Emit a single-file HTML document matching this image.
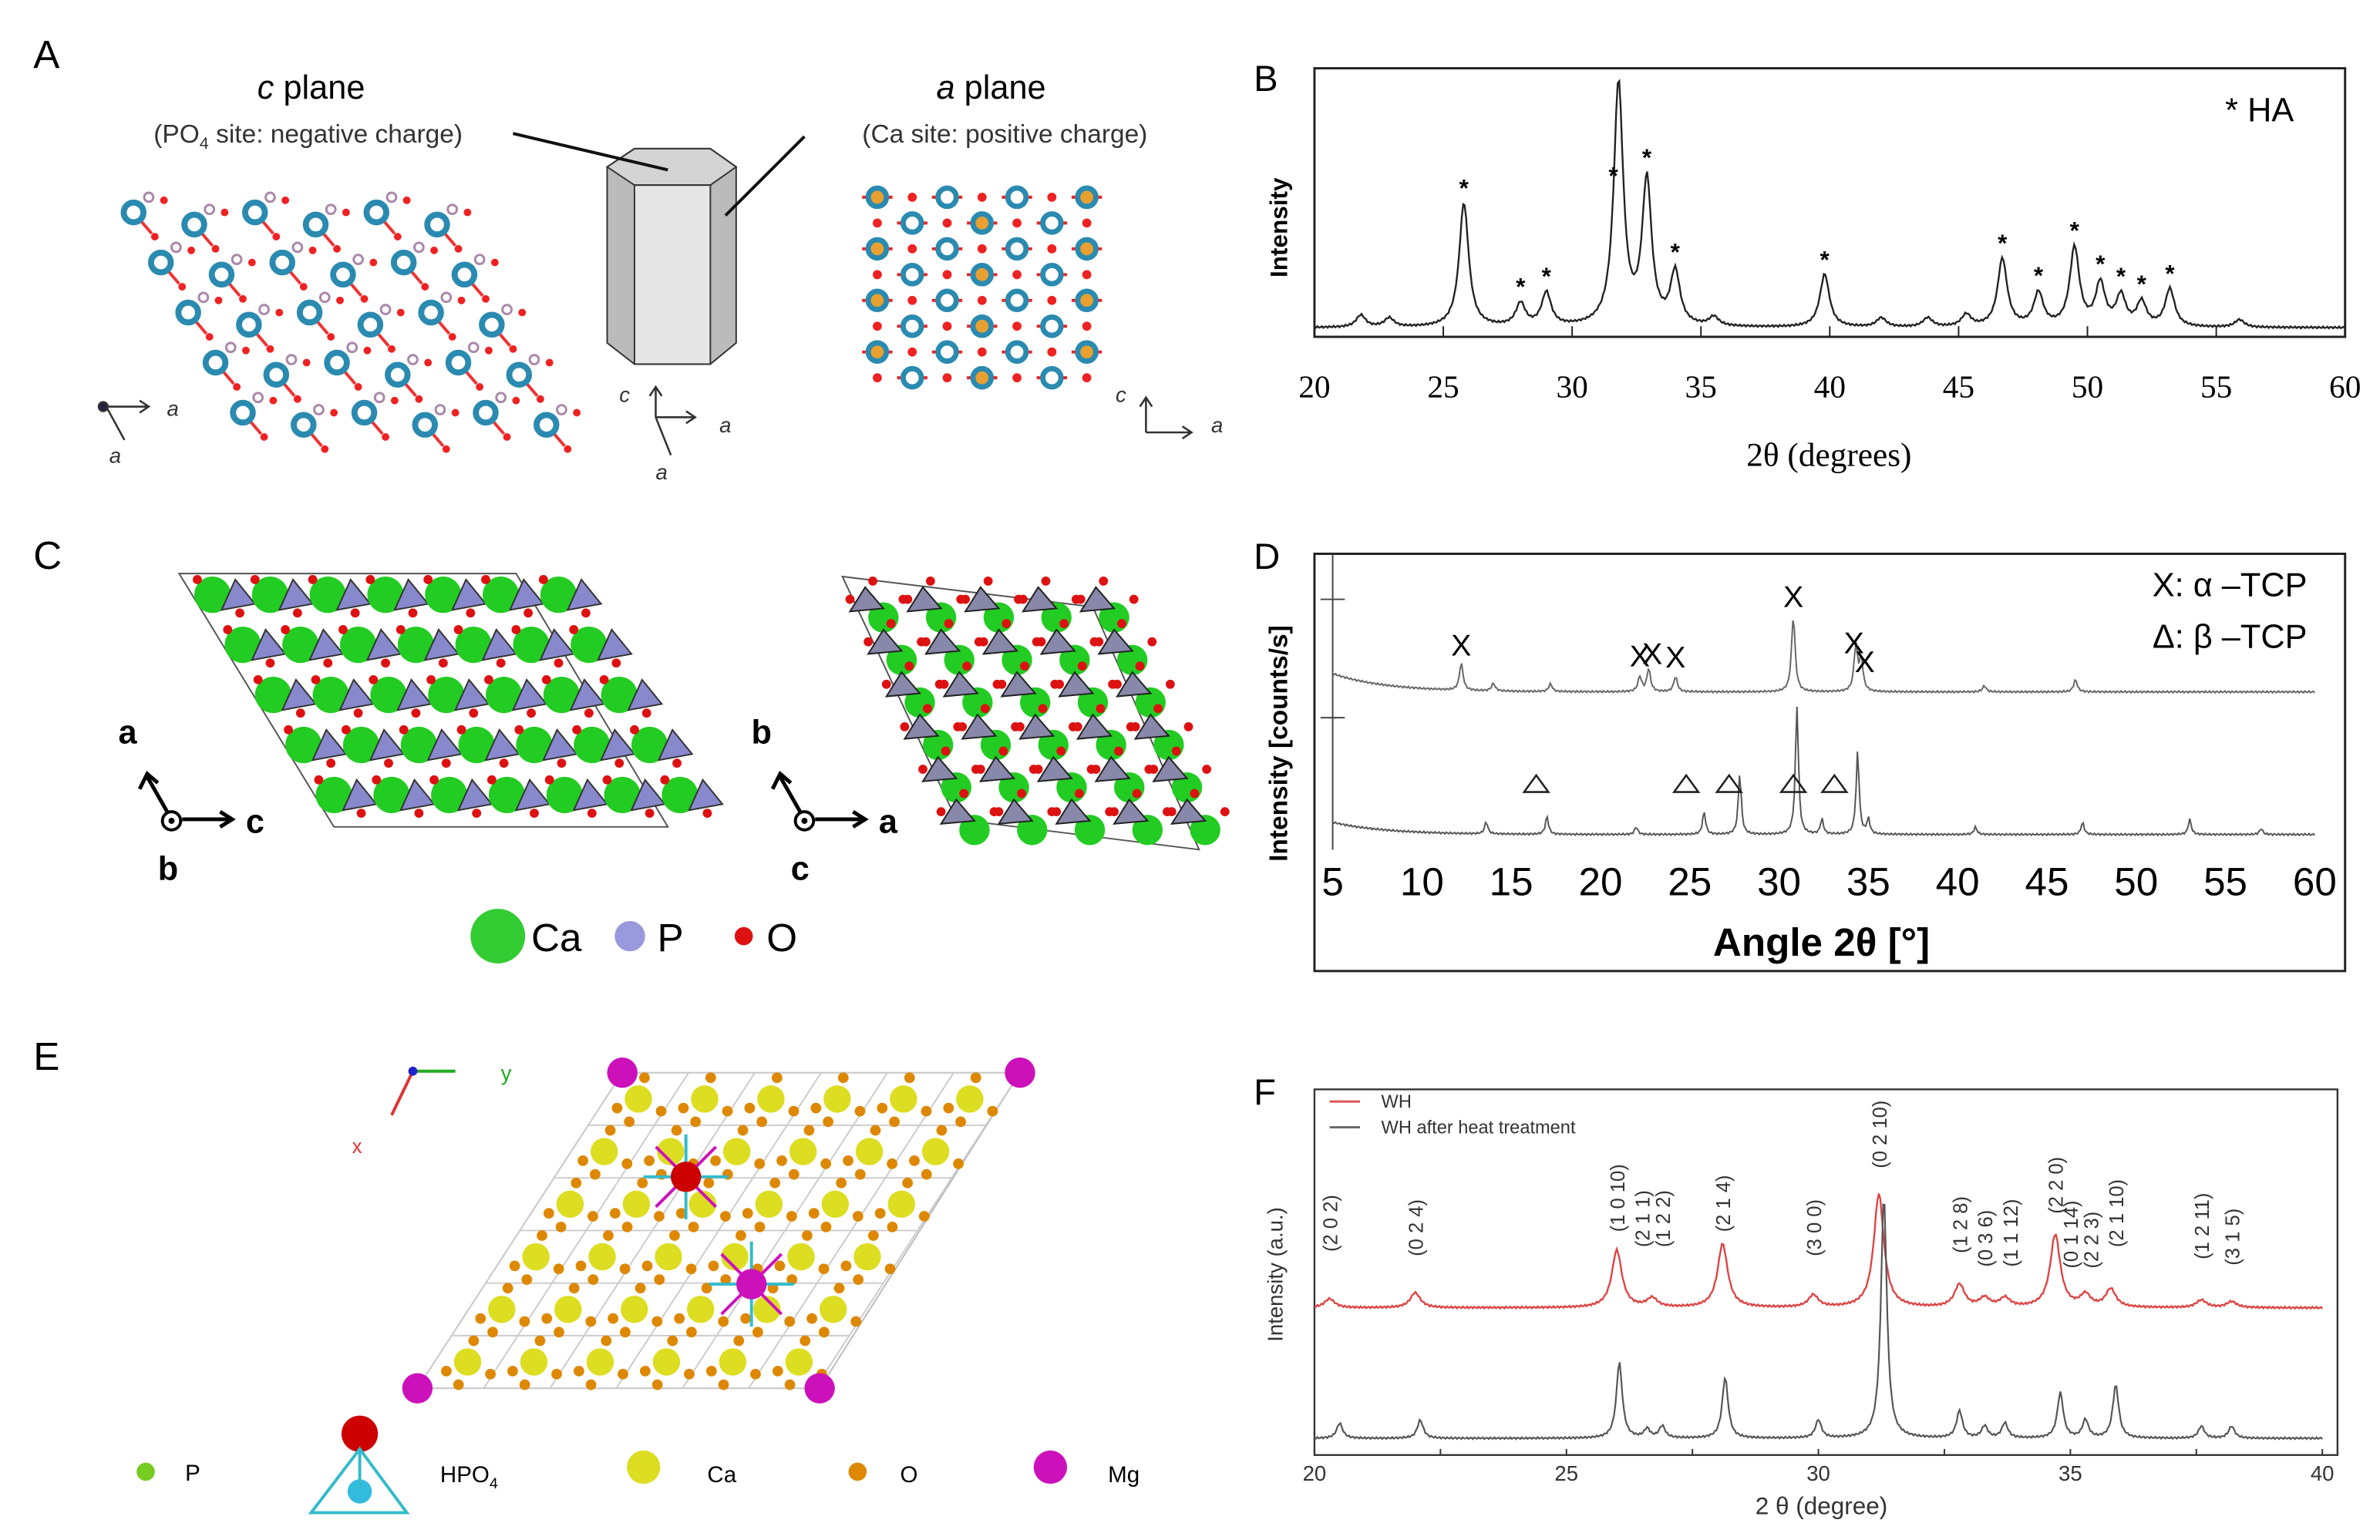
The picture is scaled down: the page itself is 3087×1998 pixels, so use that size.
<!DOCTYPE html>
<html><head><meta charset="utf-8"><style>
html,body{margin:0;padding:0;background:#fff;}
svg{display:block;font-family:"Liberation Sans",sans-serif;}
</style></head><body>
<svg id="fig" width="3087" height="1998" viewBox="0 0 1568 1015" preserveAspectRatio="none" xmlns="http://www.w3.org/2000/svg">
<rect x="0" y="0" width="1568" height="1015" fill="#fff"/>
<!-- Panel A -->
<g>
<text x="22" y="45" font-size="26">A</text>
<text x="205" y="65" font-size="22" text-anchor="middle"><tspan font-style="italic">c</tspan> plane</text>
<text x="203" y="94" font-size="17" text-anchor="middle" fill="#333">(PO<tspan font-size="11" dy="4">4</tspan><tspan dy="-4"> site: negative charge)</tspan></text>
<text x="653" y="65" font-size="22" text-anchor="middle"><tspan font-style="italic">a</tspan> plane</text>
<text x="662" y="94" font-size="17" text-anchor="middle" fill="#333">(Ca site: positive charge)</text>
<g>
<polygon points="400,110 418,98 468,98 485,110 485,226 468,240 418,240 400,226" fill="#bbb" stroke="#333"/>
<polygon points="400,110 418,98 468,98 485,110 468,122 418,122" fill="#d4d4d4" stroke="#333"/>
<rect x="418" y="122" width="50" height="118" fill="#e6e6e6" stroke="#333"/>
<line x1="338" y1="88" x2="440" y2="112" stroke="#111" stroke-width="2"/>
<line x1="530" y1="90" x2="478" y2="142" stroke="#111" stroke-width="2"/>
</g>
<g id="crystA"></g>
<g id="crystA2"></g>
<g stroke="#333" fill="none" stroke-width="1.3">
<path d="M70,268 H98 M92,264 L98,268 L92,272"/><path d="M70,268 L82,290"/><circle cx="68" cy="268" r="3" fill="#224" />
<path d="M432,275 V255 M428,261 L432,255 L436,261 M432,275 H458 M452,271 L458,275 L452,279 M432,275 L442,300"/>
<path d="M755,285 V262 M751,268 L755,262 L759,268 M755,285 H785 M779,281 L785,285 L779,289"/>
</g>
<g font-size="14" font-style="italic" fill="#333"><text x="110" y="274">a</text><text x="72" y="305">a</text><text x="408" y="265">c</text><text x="474" y="285">a</text><text x="432" y="316">a</text><text x="735" y="265">c</text><text x="798" y="285">a</text></g>
</g>
<!-- Panel B -->
<g>
<text x="826" y="60" font-size="24">B</text>
<rect x="866" y="45" width="679" height="177" fill="none" stroke="#222" stroke-width="1.5"/>
<g id="bTicks"></g>
<path id="bLine" fill="none" stroke="#222" stroke-width="1.2"/>
<g id="bStars"></g>
<text x="1205" y="307" font-size="22" font-family="Liberation Serif,serif" text-anchor="middle">2θ (degrees)</text>
<text transform="translate(848,150) rotate(-90)" font-size="16" font-weight="bold" text-anchor="middle">Intensity</text>
<text x="1466" y="80" font-size="22">* HA</text>
</g>
<!-- Panel C -->
<g>
<text x="22" y="375" font-size="26">C</text>
<polygon points="118,378 340,378 440,545 220,545" fill="none" stroke="#555"/>
<polygon points="555,380 720,400 790,560 630,540" fill="none" stroke="#555"/>
<g id="crystC1"></g>
<g id="crystC2"></g>
<g stroke="#000" stroke-width="2.5" fill="none">
<path d="M113,540 L97,512 M92,520 L97,510 L104,516"/><path d="M120,540 H152 M145,535 L153,540 L145,545"/>
<path d="M530,540 L514,512 M509,520 L514,510 L521,516"/><path d="M537,540 H569 M562,535 L570,540 L562,545"/>
</g>
<circle cx="113" cy="541" r="6" fill="#fff" stroke="#000" stroke-width="2"/><circle cx="113" cy="541" r="2" fill="#000"/>
<circle cx="530" cy="541" r="6" fill="#fff" stroke="#000" stroke-width="2"/><circle cx="530" cy="541" r="2" fill="#000"/>
<g font-size="22" font-weight="bold"><text x="78" y="490">a</text><text x="162" y="549">c</text><text x="104" y="580">b</text><text x="495" y="490">b</text><text x="579" y="549">a</text><text x="521" y="580">c</text></g>
<g>
<circle cx="328" cy="617" r="18" fill="#3c3"/><text x="350" y="627" font-size="26">Ca</text>
<circle cx="415" cy="617" r="10" fill="#99d"/><text x="433" y="627" font-size="26">P</text>
<circle cx="490" cy="617" r="6" fill="#d11"/><text x="505" y="627" font-size="26">O</text>
</g>
</g>
<!-- Panel D -->
<g>
<text x="826" y="375" font-size="24">D</text>
<rect x="866" y="365" width="679" height="275" fill="none" stroke="#222" stroke-width="1.5"/>
<line x1="878" y1="365" x2="878" y2="560" stroke="#444"/>
<line x1="870" y1="395" x2="886" y2="395" stroke="#444"/><line x1="870" y1="473" x2="886" y2="473" stroke="#444"/>
<path id="dTop" fill="none" stroke="#666" stroke-width="1"/>
<path id="dBot" fill="none" stroke="#555" stroke-width="1"/>
<g id="dTicks"></g><g id="dMarks"></g>
<text x="1200" y="630" font-size="26" font-weight="bold" text-anchor="middle">Angle 2θ [°]</text>
<text transform="translate(848,490) rotate(-90)" font-size="17" font-weight="bold" text-anchor="middle">Intensity [counts/s]</text>
<text x="1520" y="393" font-size="22" text-anchor="end">X: α –TCP</text>
<text x="1520" y="427" font-size="22" text-anchor="end">Δ: β –TCP</text>
</g>
<!-- Panel E -->
<g>
<text x="22" y="705" font-size="26">E</text>
<polygon points="410,707 672,707 540,915 275,915" fill="none" stroke="#bbb"/>
<g id="crystE"></g>
<g stroke-width="2" fill="none"><path d="M272,706 H300" stroke="#2a2"/><path d="M272,706 L258,735" stroke="#d33"/></g>
<circle cx="272" cy="706" r="3" fill="#22c"/>
<text x="330" y="712" font-size="14" fill="#2a2">y</text><text x="232" y="760" font-size="13" fill="#d33">x</text>
<g font-size="15">
<circle cx="96" cy="970" r="6" fill="#7c2"/><text x="122" y="976">P</text>
<circle cx="237" cy="945" r="12" fill="#c00"/><circle cx="237" cy="983" r="8" fill="#3bd"/>
<path d="M237,955 L205,997 L268,997 Z M237,955 V983" stroke="#3bc" stroke-width="2" fill="none"/>
<text x="290" y="977">HPO<tspan font-size="10" dy="4">4</tspan></text>
<circle cx="424" cy="967" r="11" fill="#dd2"/><text x="466" y="977">Ca</text>
<circle cx="565" cy="970" r="6" fill="#d80"/><text x="593" y="977">O</text>
<circle cx="692" cy="967" r="11" fill="#c1b"/><text x="730" y="977">Mg</text>
</g>
</g>
<!-- Panel F -->
<g>
<text x="826" y="728" font-size="24">F</text>
<rect x="866" y="718" width="674" height="241" fill="none" stroke="#333" stroke-width="1.2"/>
<line x1="876" y1="726" x2="896" y2="726" stroke="#d55" stroke-width="1.5"/><text x="910" y="730" font-size="12" fill="#333">WH</text>
<line x1="876" y1="743" x2="896" y2="743" stroke="#666" stroke-width="1.5"/><text x="910" y="747" font-size="12" fill="#333">WH after heat treatment</text>
<path id="fRed" fill="none" stroke="#d44" stroke-width="1.2"/>
<path id="fGray" fill="none" stroke="#555" stroke-width="1.1"/>
<g id="fTicks"></g><g id="fLabels"></g>
<text x="1200" y="998" font-size="16" fill="#333" text-anchor="middle">2 θ (degree)</text>
<text transform="translate(845,840) rotate(-90)" font-size="14" fill="#333" text-anchor="middle">Intensity (a.u.)</text>
</g>
</svg>
<script>
// ---- Panel B data ----
const bTickLabels=[20,25,30,35,40,45,50,55,60];
const bPeakPos=[21.8,22.9,25.8,28.0,29.0,31.8,32.9,34.0,35.5,39.8,42.0,43.8,45.3,46.7,48.1,49.5,50.5,51.3,52.1,53.2,55.9];
const bPeakH=[8,6,82,15,22,160,95,35,6,35,6,6,8,45,22,52,28,20,16,25,5];
const bStarPos=[25.8,28.0,29.0,31.6,32.9,34.0,39.8,46.7,48.1,49.5,50.5,51.3,52.1,53.2];
// ---- Panel D data ----
const dTickLabels=[5,10,15,20,25,30,35,40,45,50,55,60];
const dTopPos=[12.2,14.0,17.2,22.2,22.7,24.2,30.8,34.3,34.6,46.6,41.5];
const dTopH=[18,5,5,10,15,10,50,30,20,8,4];
const dBotPos=[13.6,17.0,22.0,25.8,27.8,31.0,32.4,34.4,35.0,47.0,53.0,41.0,57.0];
const dBotH=[8,12,5,15,40,85,10,55,10,8,10,5,4];
const dXPos=[12.2,22.2,22.9,24.2,30.8,34.2,34.8];
const dXRaise=[0,0,8,0,0,0,0];
const dTriPos=[16.4,24.8,27.2,30.8,33.1];
// ---- Panel F data ----
const fTickLabels=[20,25,30,35,40];
const fRedPos=[20.3,22.0,26.0,26.7,28.1,29.9,31.2,32.8,33.3,33.7,34.7,35.3,35.8,37.6,38.2];
const fRedH=[6,10,38,6,42,8,75,15,6,6,48,8,12,5,4];
const fGrayPos=[20.5,22.1,26.05,26.6,26.9,28.15,30.0,31.3,32.8,33.3,33.7,34.8,35.3,35.9,37.6,38.2];
const fGrayH=[10,12,50,6,8,40,12,160,18,8,10,30,12,35,8,8];
const fHkl=["(2 0 2)","(0 2 4)","(1 0 10)","(2 1 1)","(1 2 2)","(2 1 4)","(3 0 0)","(0 2 10)","(1 2 8)","(0 3 6)","(1 1 12)","(2 2 0)","(0 1 14)","(2 2 3)","(2 1 10)","(1 2 11)","(3 1 5)"];
const fHklPos=[20.3,22.0,26.0,26.5,26.9,28.1,29.9,31.2,32.8,33.3,33.8,34.7,35.0,35.4,35.9,37.6,38.2];
const fHklBase=[825,828,812,822,822,812,828,770,826,835,835,800,836,836,822,830,834];

const NS="http://www.w3.org/2000/svg";
function mk(tag,attrs,parent){const e=document.createElementNS(NS,tag);for(const k in attrs)e.setAttribute(k,attrs[k]);parent.appendChild(e);return e;}
function trace(xs,x0,x1,pos,h,w,base,baseFn){let d="";const n=700;for(let i=0;i<=n;i++){const v=x0+(x1-x0)*i/n;let y=base+(baseFn?baseFn(v):0);for(let k=0;k<pos.length;k++){const t=(v-pos[k])/w;y-=h[k]/(1+t*t);}y+=Math.sin(i*2.3)*0.6;d+=(i?"L":"M")+xs(v).toFixed(1)+","+y.toFixed(1);}return d;}

// B
const bx=v=>866+(v-20)/40*679;
document.getElementById('bLine').setAttribute('d',trace(bx,20,60,bPeakPos,bPeakH,0.22,216));
const bT=document.getElementById('bTicks');
bTickLabels.forEach(v=>{const l=mk('line',{x1:bx(v),x2:bx(v),y1:222,y2:215,stroke:'#222'},bT);

const t=mk('text',{x:bx(v),y:262,'font-size':21,'font-family':'Liberation Serif,serif','text-anchor':'middle'},bT);t.textContent=v;
});
const bS=document.getElementById('bStars');
bStarPos.forEach(p=>{let y=216;for(let k=0;k<bPeakPos.length;k++){const t=(p-bPeakPos[k])/0.22;y-=bPeakH[k]/(1+t*t);}
const s=mk('text',{x:bx(p),y:Math.max(y-4,66),'font-size':16,'font-weight':'bold','text-anchor':'middle'},bS);s.textContent='*';
});

// D
const dx=v=>878+(v-5)/55*647;
document.getElementById('dTop').setAttribute('d',trace(dx,5,60,dTopPos,dTopH,0.12,456,v=>-12*Math.exp(-(v-5)/3)));
document.getElementById('dBot').setAttribute('d',trace(dx,5,60,dBotPos,dBotH,0.1,550,v=>-8*Math.exp(-(v-5)/3)));
const dT=document.getElementById('dTicks');
dTickLabels.forEach(v=>{const t=mk('text',{x:dx(v),y:590,'font-size':26,'text-anchor':'middle'},dT);t.textContent=v;
});
const dM=document.getElementById('dMarks');
dXPos.forEach((p,i)=>{let y=456;for(let k=0;k<dTopPos.length;k++){const t=(p-dTopPos[k])/0.12;y-=dTopH[k]/(1+t*t);}
const s=mk('text',{x:dx(p),y:y-6-dXRaise[i],'font-size':20,'text-anchor':'middle'},dM);s.textContent='X';
});
dTriPos.forEach(p=>{let y=550;for(let k=0;k<dBotPos.length;k++){const t=(p-dBotPos[k])/0.1;y-=dBotH[k]/(1+t*t);}
const c=dx(p),yy=Math.min(y-10,522);const s=mk('path',{d:`M${c-8},${yy} L${c+8},${yy} L${c},${yy-11} Z`,fill:'none',stroke:'#222','stroke-width':1.3},dM);
});

// F
const fx=v=>866+(v-20)/20*664;
document.getElementById('fRed').setAttribute('d',trace(fx,20,40,fRedPos,fRedH,0.12,862));
document.getElementById('fGray').setAttribute('d',trace(fx,20,40,fGrayPos,fGrayH,0.07,948));
const fT=document.getElementById('fTicks');
for(let v=20;v<=40;v+=2.5){mk('line',{x1:fx(v),x2:fx(v),y1:959,y2:955,stroke:'#333'},fT);}
fTickLabels.forEach(v=>{const t=mk('text',{x:fx(v),y:976,'font-size':14,fill:'#333','text-anchor':'middle'},fT);t.textContent=v;
});
const fL=document.getElementById('fLabels');
fHkl.forEach((s,i)=>{const x=fx(fHklPos[i])+5,y=fHklBase[i];const t=mk('text',{transform:`translate(${x},${y}) rotate(-90)`,'font-size':13,fill:'#333'},fL);t.textContent=s;
});

// decorative crystal structures (illustrations, not chart data)
function atom(g,x,y,r,fill,stroke,sw){mk('circle',{cx:x,cy:y,r:r,fill:fill,stroke:stroke||'none','stroke-width':sw||0},g);}
const A=document.getElementById('crystA');
for(let r=0;r<5;r++)for(let c=0;c<6;c++){const x=88+c*40+r*18,y=140+r*33+(c%2)*8;mk('line',{x1:x,y1:y,x2:x+12,y2:y+14,stroke:'#e33','stroke-width':2},A);atom(A,x+14,y+16,2.5,'#e22');atom(A,x+10,y-10,3,'#fff','#a8a',1.5);atom(A,x,y,6.5,'#fff','#2a8ab0',4);atom(A,x+20,y-8,2.5,'#e22');}
const A2=document.getElementById('crystA2');
for(let r=0;r<8;r++)for(let c=0;c<7;c++){const x=578+c*23,y=130+r*17;if((r+c)%2==0){mk('line',{x1:x-10,y1:y,x2:x+10,y2:y,stroke:'#e22','stroke-width':2},A2);atom(A2,x,y,6,(c%3==0)?'#e8a030':'#fff','#2a8ab0',3.5);}else atom(A2,x,y,3,'#e22');}
const C1=document.getElementById('crystC1'),C2=document.getElementById('crystC2');
for(let r=0;r<5;r++)for(let c=0;c<7;c++){const x=140+c*38+r*20,y=392+r*33;atom(C1,x,y,12,'#2c2');mk('polygon',{points:`${x+15},${y-10} ${x+28},${y+6} ${x+6},${y+10}`,fill:'#88c','stroke':'#333'},C1);atom(C1,x-10,y-10,3,'#d11');atom(C1,x+18,y+12,3,'#d11');}
for(let r=0;r<6;r++)for(let c=0;c<5;c++){const x=570+c*38+r*12,y=395+r*28;atom(C2,x+12,y+12,10,'#2c2');mk('polygon',{points:`${x},${y-8} ${x+12},${y+6} ${x-10},${y+8}`,fill:'#88a','stroke':'#222'},C2);atom(C2,x-10,y,3,'#d11');atom(C2,x+5,y-12,3,'#d11');atom(C2,x+25,y,3,'#d11');}
const E=document.getElementById('crystE');
const ep=(u,v)=>[410+u*262-v*135,707+v*208];
for(let i=0;i<=6;i++){const a=ep(i/6,0),b=ep(i/6,1);mk('line',{x1:a[0],y1:a[1],x2:b[0],y2:b[1],stroke:'#ccc'},E);const c=ep(0,i/6),d=ep(1,i/6);mk('line',{x1:c[0],y1:c[1],x2:d[0],y2:d[1],stroke:'#ccc'},E);}
for(let i=0;i<6;i++)for(let j=0;j<6;j++){const p=ep((i+0.5)/6,(j+0.5)/6);atom(E,p[0],p[1],9,'#dd2');atom(E,p[0]+15,p[1]+8,3.5,'#d80');atom(E,p[0]-14,p[1]+6,3.5,'#d80');atom(E,p[0]+4,p[1]-14,3.5,'#d80');atom(E,p[0]-6,p[1]+15,3.5,'#d80');}
[[0.33,0.33],[0.67,0.67]].forEach(q=>{const p=ep(q[0],q[1]);for(let k=0;k<8;k++){const a=k*Math.PI/4;mk('line',{x1:p[0],y1:p[1],x2:p[0]+28*Math.cos(a),y2:p[1]+28*Math.sin(a),stroke:k%2?'#c1b':'#3bc','stroke-width':2},E);}});
atom(E,ep(0.33,0.33)[0],ep(0.33,0.33)[1],10,'#c00');atom(E,ep(0.67,0.67)[0],ep(0.67,0.67)[1],10,'#c1b');
[[410,707],[672,707],[540,915],[275,915]].forEach(p=>atom(E,p[0],p[1],10,'#c1b'));
</script>
</body></html>
